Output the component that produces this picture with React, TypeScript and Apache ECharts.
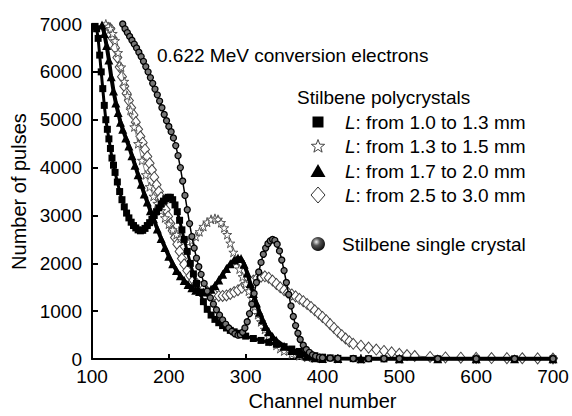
import React, { useEffect, useRef } from "react";
import * as echarts from "echarts";

// ---- Data (channel, number of pulses) ----
const sqCh = [104,106,108,110,112,114,116,118,120,122,124,126,128,130,133,136,139,142,145,148,151,154,157,160,163,166,169,172,175,178,181,184,187,190,193,196,199,202,205,208,211,214,217,220,224,228,232,236,240,245,250,255,260,265,270,275,280,285,290,295,300,310,320,330,340,350,360,370,380,390,400,410,420,440,460,480,500,550,600,650,700];
const sqVal = [6950,6900,6700,6350,6000,5650,5300,5000,4800,4600,4400,4200,4050,3900,3700,3500,3330,3180,3050,2950,2860,2790,2740,2700,2680,2690,2730,2790,2850,2920,3000,3080,3160,3240,3300,3350,3380,3380,3330,3220,3080,2900,2700,2500,2250,2000,1780,1580,1400,1200,1040,920,830,760,700,650,600,570,540,510,480,430,390,350,310,260,210,160,110,70,40,25,15,10,8,5,5,5,5,5,5];

const stCh = [118,121,124,127,130,134,138,142,146,150,155,160,165,170,175,180,185,190,195,200,205,210,215,220,225,230,235,240,245,250,255,260,264,268,272,276,280,284,288,292,296,300,304,308,312,316,320,325,330,335,340,345,350,360,370,380,390,400,420,450,500,600,700];
const stVal = [7000,6950,6900,6800,6650,6400,6100,5800,5500,5200,4850,4500,4150,3850,3600,3400,3250,3100,2950,2820,2700,2600,2520,2470,2450,2480,2560,2660,2770,2860,2920,2940,2920,2850,2740,2600,2420,2230,2050,1880,1720,1570,1420,1270,1100,930,780,620,480,370,290,220,170,110,70,40,25,15,10,8,5,5,5];

const trCh = [113,116,119,122,125,128,131,134,137,140,144,148,152,156,160,164,168,172,176,180,185,190,195,200,205,210,215,220,225,230,235,240,245,250,255,260,265,270,275,280,285,290,294,298,302,306,310,314,318,322,326,330,335,340,350,360,370,380,390,400,420,450,500,550,600,650,700];
const trVal = [6980,6800,6550,6250,5900,5600,5350,5150,4950,4800,4620,4450,4250,4050,3850,3650,3450,3280,3100,2930,2720,2520,2330,2150,1990,1850,1740,1640,1560,1490,1440,1410,1400,1410,1460,1540,1650,1770,1890,1990,2070,2110,2100,1980,1800,1580,1370,1170,980,820,680,570,470,390,270,180,110,60,30,15,10,8,5,5,5,5,5];

const diCh = [124,127,130,133,136,139,142,145,148,151,154,157,160,163,166,169,172,175,178,181,184,187,190,193,196,199,202,205,208,211,214,217,220,224,228,232,236,240,245,250,255,260,265,270,275,280,285,290,295,300,305,310,315,320,325,330,335,340,345,350,355,360,365,370,375,380,385,390,395,400,405,410,415,420,425,430,435,440,450,460,470,480,490,500,510,520,540,560,580,600,620,640,660,680,700];
const diVal = [6900,6700,6500,6300,6100,5900,5700,5550,5400,5250,5100,4950,4800,4650,4520,4380,4230,4090,3950,3800,3640,3500,3380,3260,3120,2980,2830,2680,2540,2400,2250,2100,1980,1850,1740,1650,1580,1520,1460,1410,1370,1340,1320,1320,1330,1360,1400,1440,1490,1540,1590,1640,1690,1720,1730,1700,1640,1570,1500,1440,1390,1350,1310,1260,1210,1150,1090,1020,950,880,810,730,650,570,500,430,370,320,280,240,200,170,140,110,85,65,45,35,30,25,22,20,18,15,12];

const scCh = [140,143,146,149,152,155,158,161,164,167,170,173,176,179,182,185,188,191,194,197,200,203,206,209,212,215,218,221,224,227,230,233,236,239,242,246,250,254,258,262,266,270,274,278,282,286,290,293,296,299,302,305,308,311,314,317,320,323,326,329,332,335,338,341,344,347,350,353,356,359,362,365,368,371,375,379,383,387,391,396,400,410,420,440,460,480,500,550,600,650,700];
const scVal = [7000,6900,6820,6740,6660,6580,6500,6410,6320,6220,6110,6000,5880,5760,5640,5520,5390,5250,5110,4980,4860,4750,4620,4460,4250,4000,3720,3420,3120,2830,2560,2320,2110,1930,1770,1580,1420,1280,1150,1030,920,820,730,650,580,530,500,510,560,650,780,950,1150,1370,1600,1820,2020,2190,2320,2410,2470,2500,2480,2400,2260,2070,1850,1600,1350,1110,890,700,540,410,290,200,140,90,60,40,30,20,15,12,10,10,10,8,8,8,8];

const xTicks = [100, 200, 300, 400, 500, 600, 700];
const yTicks = [0, 1000, 2000, 3000, 4000, 5000, 6000, 7000];

const legendLabels = [
  "{i|L}: from 1.0 to 1.3 mm",
  "{i|L}: from 1.3 to 1.5 mm",
  "{i|L}: from 1.7 to 2.0 mm",
  "{i|L}: from 2.5 to 3.0 mm",
];
const legendTitle = "Stilbene polycrystals";
const singleLabel = "Stilbene single crystal";
const annotation = "0.622 MeV conversion electrons";

const FONT = "'Liberation Sans', Arial, Helvetica, sans-serif";
const STAR = "path://M50,2 L61,36 L97,36 L68,57 L79,92 L50,71 L21,92 L32,57 L3,36 L39,36 Z";

const pairs = (xs: number[], ys: number[]) => xs.map((x, i) => [x, ys[i]]);

function starPoints(cx: number, cy: number, ro: number, ri: number) {
  const pts: number[][] = [];
  for (let k = 0; k < 10; k++) {
    const r = k % 2 === 0 ? ro : ri;
    const a = -Math.PI / 2 + (k * Math.PI) / 5;
    pts.push([cx + r * Math.cos(a), cy + r * Math.sin(a)]);
  }
  return pts;
}

export default function App() {
  const ref = useRef<HTMLDivElement>(null);
  useEffect(() => {
    document.body.style.margin = "0";
    if (!ref.current) return;
    const chart = echarts.init(ref.current, undefined, { renderer: "svg" });
    const mx = 318;
    const rowY = [122, 146, 171, 195];
    const textStyleBase = { fontFamily: FONT, fontSize: 19, fill: "#000" };
    chart.setOption({
      animation: false,
      backgroundColor: "#fff",
      grid: { left: 92, right: 19, top: 24, bottom: 51 },
      xAxis: {
        type: "value",
        min: 100,
        max: 700,
        interval: 100,
        name: "Channel number",
        nameLocation: "middle",
        nameGap: 30,
        nameTextStyle: { fontFamily: FONT, fontSize: 20, color: "#000" },
        axisLine: { show: true, onZero: false, lineStyle: { color: "#000", width: 2 } },
        axisTick: { show: true, inside: true, length: 5, lineStyle: { color: "#000", width: 2 } },
        axisLabel: {
          fontFamily: FONT,
          fontSize: 19,
          color: "#000",
          margin: 8,
          formatter: (v: number) => (xTicks.includes(v) ? String(v) : ""),
        },
        splitLine: { show: false },
      },
      yAxis: {
        type: "value",
        min: 0,
        max: 7000,
        interval: 1000,
        name: "Number of pulses",
        nameLocation: "middle",
        nameGap: 62,
        nameTextStyle: { fontFamily: FONT, fontSize: 20, color: "#000" },
        axisLine: { show: true, lineStyle: { color: "#000", width: 2 } },
        axisTick: { show: true, inside: true, length: 6, lineStyle: { color: "#000", width: 2 } },
        axisLabel: {
          fontFamily: FONT,
          fontSize: 19,
          color: "#000",
          margin: 10,
          formatter: (v: number) => (yTicks.includes(v) ? String(v) : ""),
        },
        splitLine: { show: false },
      },
      series: [
        {
          type: "line",
          name: "diamonds",
          data: pairs(diCh, diVal),
          symbol: "diamond",
          symbolSize: [9, 11],
          showAllSymbol: true,
          lineStyle: { color: "#666", width: 1 },
          itemStyle: { color: "#fff", borderColor: "#444", borderWidth: 1 },
          z: 2,
        },
        {
          type: "line",
          name: "stars",
          data: pairs(stCh, stVal),
          symbol: STAR,
          symbolSize: 9,
          showAllSymbol: true,
          lineStyle: { color: "#888", width: 1 },
          itemStyle: { color: "#fff", borderColor: "#555", borderWidth: 1 },
          z: 3,
        },
        {
          type: "line",
          name: "squares",
          data: pairs(sqCh, sqVal),
          symbol: "rect",
          symbolSize: 7,
          showAllSymbol: true,
          lineStyle: { color: "#000", width: 3 },
          itemStyle: { color: "#000" },
          z: 4,
        },
        {
          type: "line",
          name: "triangles",
          data: pairs(trCh, trVal),
          symbol: "triangle",
          symbolSize: 9,
          showAllSymbol: true,
          lineStyle: { color: "#000", width: 4 },
          itemStyle: { color: "#000" },
          z: 5,
        },
        {
          type: "line",
          name: "single",
          data: pairs(scCh, scVal),
          symbol: "circle",
          symbolSize: 6,
          showAllSymbol: true,
          lineStyle: { color: "#000", width: 1.5 },
          itemStyle: { color: "#777", borderColor: "#000", borderWidth: 1.3 },
          z: 6,
        },
      ],
      graphic: [
        {
          type: "text",
          x: 157,
          y: 55,
          style: { ...textStyleBase, text: annotation, textVerticalAlign: "middle" },
        },
        {
          type: "text",
          x: 297,
          y: 97,
          style: { ...textStyleBase, text: legendTitle, textVerticalAlign: "middle" },
        },
        ...legendLabels.map((t, i) => ({
          type: "text",
          x: 345,
          y: rowY[i],
          style: {
            ...textStyleBase,
            text: t,
            textVerticalAlign: "middle",
            rich: { i: { fontFamily: FONT, fontSize: 19, fontStyle: "italic", fill: "#000" } },
          },
        })),
        {
          type: "rect",
          shape: { x: mx - 5.5, y: rowY[0] - 5.5, width: 11, height: 11 },
          style: { fill: "#000" },
        },
        {
          type: "polygon",
          shape: { points: starPoints(mx, rowY[1] + 0.5, 7, 2.9) },
          style: { fill: "#fff", stroke: "#444", lineWidth: 1 },
        },
        {
          type: "polygon",
          shape: { points: [[mx, rowY[2] - 7], [mx + 7.5, rowY[2] + 6], [mx - 7.5, rowY[2] + 6]] },
          style: { fill: "#000" },
        },
        {
          type: "polygon",
          shape: { points: [[mx, rowY[3] - 8], [mx + 7, rowY[3]], [mx, rowY[3] + 8], [mx - 7, rowY[3]]] },
          style: { fill: "#fff", stroke: "#333", lineWidth: 1 },
        },
        {
          type: "circle",
          shape: { cx: mx, cy: 244, r: 7 },
          style: {
            fill: {
              type: "radial",
              x: 0.38,
              y: 0.35,
              r: 0.75,
              colorStops: [
                { offset: 0, color: "#eee" },
                { offset: 0.35, color: "#555" },
                { offset: 1, color: "#000" },
              ],
            },
          },
        },
        {
          type: "text",
          x: 342,
          y: 244,
          style: { ...textStyleBase, text: singleLabel, textVerticalAlign: "middle" },
        },
      ],
    });
    return () => chart.dispose();
  }, []);
  return <div ref={ref} style={{ width: 572, height: 416 }} />;
}
